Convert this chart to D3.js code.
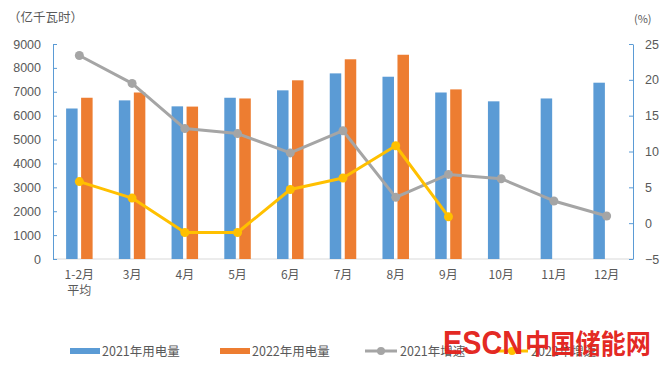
<!DOCTYPE html>
<html>
<head>
<meta charset="utf-8">
<script src="https://cdn.jsdelivr.net/npm/d3@7"></script>
<style>
  body { margin: 0; background: #fff; }
  svg text { font-family: "Noto Sans CJK SC", "Noto Sans", sans-serif; }
</style>
</head>
<body>
<div id="chart"></div>
<script>
// data
var months = ['1-2月', '3月', '4月', '5月', '6月', '7月', '8月', '9月', '10月', '11月', '12月'];
var use2021 = [6300, 6640, 6390, 6750, 7060, 7770, 7630, 6970, 6600, 6720, 7380];
var use2022 = [6750, 6970, 6380, 6720, 7480, 8360, 8550, 7100];
var growth2021 = [23.4, 19.5, 13.2, 12.5, 9.8, 12.9, 3.6, 6.8, 6.2, 3.1, 1.0];
var growth2022 = [5.8, 3.5, -1.3, -1.3, 4.7, 6.3, 10.8, 0.9];
var leftTicks = [0, 1000, 2000, 3000, 4000, 5000, 6000, 7000, 8000, 9000];
var rightTicks = [-5, 0, 5, 10, 15, 20, 25];
var legendNames = ['2021年用电量', '2022年用电量', '2021年增速', '2022年增速'];

var W = 670, H = 367;
var m = { left: 53, right: 37, top: 44, bottom: 108 };
var blue = '#5B9BD5', orange = '#ED7D31', gray = '#A5A5A5', yellow = '#FFC000';
var txtCol = '#595959';

var svg = d3.select('#chart').append('svg').attr('width', W).attr('height', H);

var x = d3.scaleBand().domain(months).range([m.left, W - m.right]);
var y = d3.scaleLinear().domain([0, 9000]).range([H - m.bottom, m.top]);
var y2 = d3.scaleLinear().domain([-5, 25]).range([H - m.bottom, m.top]);

var barW = 11.5, gap = 3.5;

// x axis line
svg.append('line')
    .attr('x1', m.left).attr('x2', W - m.right)
    .attr('y1', y(0)).attr('y2', y(0))
    .attr('stroke', '#d9d9d9').attr('stroke-width', 1);

// bars
svg.append('g').selectAll('rect').data(use2021).enter().append('rect')
    .attr('x', function(d, i) { return x(months[i]) + x.bandwidth() / 2 - gap / 2 - barW; })
    .attr('y', function(d) { return y(d); })
    .attr('width', barW)
    .attr('height', function(d) { return y(0) - y(d); })
    .attr('fill', blue);

svg.append('g').selectAll('rect').data(use2022).enter().append('rect')
    .attr('x', function(d, i) { return x(months[i]) + x.bandwidth() / 2 + gap / 2; })
    .attr('y', function(d) { return y(d); })
    .attr('width', barW)
    .attr('height', function(d) { return y(0) - y(d); })
    .attr('fill', orange);

// lines
function drawLine(vals, col) {
    var line = d3.line()
        .x(function(d, i) { return x(months[i]) + x.bandwidth() / 2; })
        .y(function(d) { return y2(d); });
    svg.append('path').datum(vals)
        .attr('d', line)
        .attr('fill', 'none')
        .attr('stroke', col)
        .attr('stroke-width', 3)
        .attr('stroke-linejoin', 'round');
    svg.append('g').selectAll('circle').data(vals).enter().append('circle')
        .attr('cx', function(d, i) { return x(months[i]) + x.bandwidth() / 2; })
        .attr('cy', function(d) { return y2(d); })
        .attr('r', 4.5)
        .attr('fill', col);
}
drawLine(growth2021, gray);
drawLine(growth2022, yellow);

// left axis
var axL = svg.append('g').attr('transform', 'translate(' + m.left + ',0)')
    .call(d3.axisLeft(y).tickValues(leftTicks).tickFormat(d3.format('d'))
        .tickSizeInner(-4).tickSizeOuter(0).tickPadding(12));
axL.select('.domain').attr('stroke', blue);
axL.selectAll('.tick line').attr('stroke', blue);
axL.selectAll('.tick text').attr('fill', txtCol).style('font-size', '12.5px')
    .style('font-family', '"Liberation Sans", sans-serif');

// right axis
var axR = svg.append('g').attr('transform', 'translate(' + (W - m.right) + ',0)')
    .call(d3.axisRight(y2).tickValues(rightTicks).tickFormat(d3.format('d'))
        .tickSizeInner(-4).tickSizeOuter(0).tickPadding(12));
axR.select('.domain').attr('stroke', blue);
axR.selectAll('.tick line').attr('stroke', blue);
axR.selectAll('.tick text').attr('fill', txtCol).style('font-size', '12.5px')
    .style('font-family', '"Liberation Sans", sans-serif');

// category labels
svg.append('g').selectAll('text').data(months).enter().append('text')
    .attr('x', function(d) { return x(d) + x.bandwidth() / 2; })
    .attr('y', y(0) + 20)
    .attr('text-anchor', 'middle')
    .attr('fill', txtCol)
    .style('font-size', '12px')
    .text(function(d) { return d; });
svg.append('text')
    .attr('x', x(months[0]) + x.bandwidth() / 2)
    .attr('y', y(0) + 36)
    .attr('text-anchor', 'middle')
    .attr('fill', txtCol)
    .style('font-size', '12px')
    .text('平均');

// unit labels
svg.append('text').attr('x', 8).attr('y', 22).attr('fill', txtCol)
    .style('font-size', '12.5px').text('（亿千瓦时）');
svg.append('text').attr('x', 634).attr('y', 23).attr('fill', txtCol)
    .style('font-size', '11px').text('(%)');

// legend
var legY = 351;
var legX = [70, 220, 365, 496];
var legCol = [blue, orange, gray, yellow];
legendNames.forEach(function(name, i) {
    var g = svg.append('g');
    if (i < 2) {
        g.append('rect').attr('x', legX[i]).attr('y', legY - 3).attr('width', 30).attr('height', 6)
            .attr('fill', legCol[i]);
    } else {
        g.append('line').attr('x1', legX[i]).attr('x2', legX[i] + 32)
            .attr('y1', legY).attr('y2', legY)
            .attr('stroke', legCol[i]).attr('stroke-width', 3);
        g.append('circle').attr('cx', legX[i] + 16).attr('cy', legY).attr('r', 4)
            .attr('fill', legCol[i]);
    }
    g.append('text').attr('x', legX[i] + (i < 2 ? 32 : 35)).attr('y', legY + 5)
        .attr('fill', txtCol).style('font-size', '12.5px').text(name);
});

// watermark
svg.append('text').attr('x', 443).attr('y', 354)
    .attr('fill', '#e3241d').attr('fill-opacity', 0.97)
    .attr('textLength', 80).attr('lengthAdjust', 'spacingAndGlyphs')
    .style('font-size', '34px').style('font-weight', 'bold')
    .style('font-family', '"Liberation Sans", sans-serif')
    .text('ESCN');
svg.append('text').attr('x', 525).attr('y', 354)
    .attr('fill', '#e3241d').attr('fill-opacity', 0.97)
    .attr('textLength', 126).attr('lengthAdjust', 'spacingAndGlyphs')
    .style('font-size', '27px').style('font-weight', 'bold')
    .text('中国储能网');
</script>
</body>
</html>
